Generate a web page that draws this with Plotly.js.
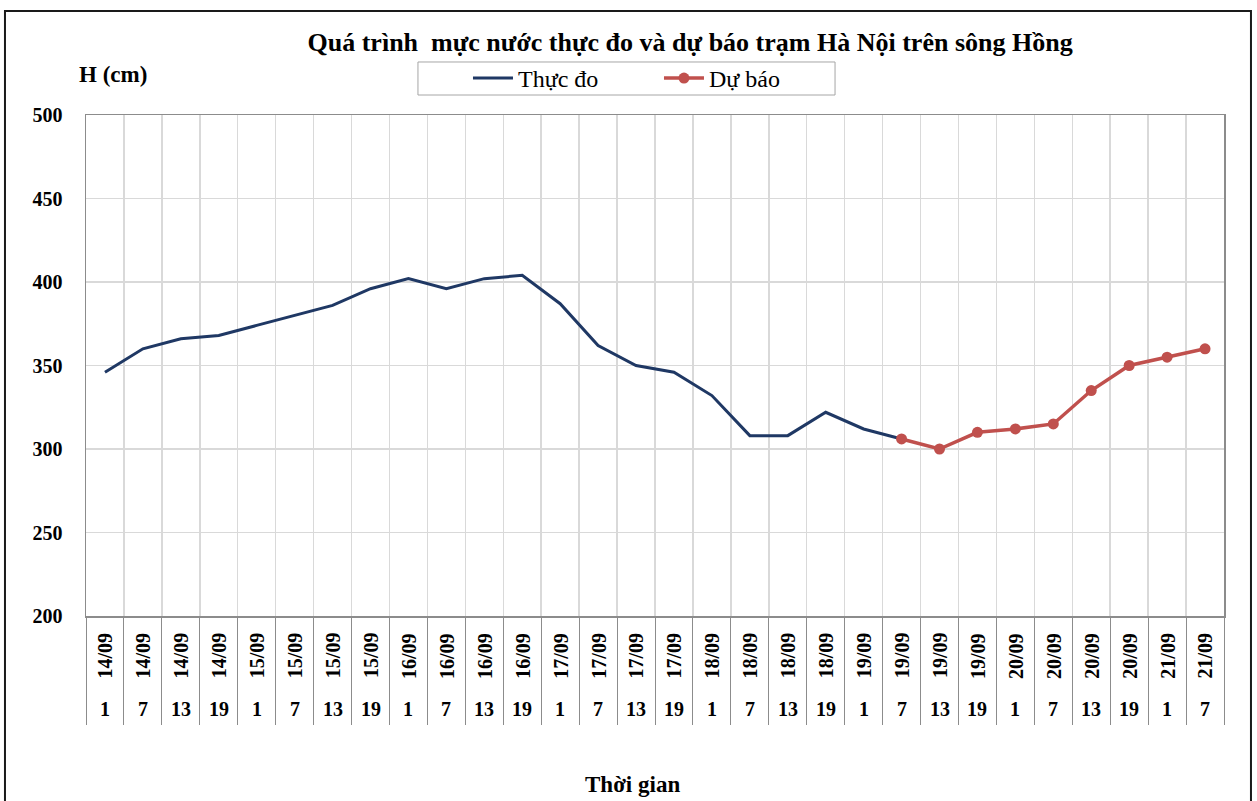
<!DOCTYPE html>
<html>
<head>
<meta charset="utf-8">
<script src="https://cdn.plot.ly/plotly-3.0.1.min.js"></script>
<style>html,body{margin:0;padding:0;background:#fff;}#chart{width:1257px;height:801px;}</style>
</head>
<body>
<div id="chart"></div>
<script>
var dates = ["14/09","14/09","14/09","14/09","15/09","15/09","15/09","15/09","16/09","16/09","16/09","16/09","17/09","17/09","17/09","17/09","18/09","18/09","18/09","18/09","19/09","19/09","19/09","19/09","20/09","20/09","20/09","20/09","21/09","21/09"];
var hours = ["1","7","13","19","1","7","13","19","1","7","13","19","1","7","13","19","1","7","13","19","1","7","13","19","1","7","13","19","1","7"];
var observed = [346,360,366,368,374,380,386,396,402,396,402,404,387,362,350,346,332,308,308,322,312,306];
var forecast = [306,300,310,312,315,335,350,355,360];
var forecastStart = 21;

var cats = dates.map(function(d,i){return d+" "+hours[i];});
var obsX = cats.slice(0, observed.length);
var fcX = cats.slice(forecastStart, forecastStart + forecast.length);

var serif = "'Liberation Serif', 'Times New Roman', serif";

var traces = [
  {x: obsX, y: observed, type: 'scatter', mode: 'lines', name: 'Thực đo',
   line: {color: '#1F3864', width: 3}},
  {x: fcX, y: forecast, type: 'scatter', mode: 'lines+markers', name: 'Dự báo',
   line: {color: '#C0504D', width: 3.5}, marker: {color: '#C0504D', size: 11}}
];

var annotations = [];
cats.forEach(function(c,i){
  annotations.push({x: c, xref: 'x', y: -0.079, yref: 'paper', text: '<b>'+dates[i]+'</b>',
    textangle: -90, showarrow: false, xanchor: 'center', yanchor: 'middle',
    font: {family: serif, size: 20, color: '#000'}});
  annotations.push({x: c, xref: 'x', y: -0.186, yref: 'paper', text: '<b>'+hours[i]+'</b>',
    showarrow: false, xanchor: 'center', yanchor: 'middle',
    font: {family: serif, size: 20, color: '#000'}});
});
annotations.push({x: 0.4798, xref: 'paper', y: -0.337, yref: 'paper', text: '<b>Thời gian</b>',
  showarrow: false, xanchor: 'center', yanchor: 'middle', font: {family: serif, size: 23, color: '#000'}});
annotations.push({x: 0.0237, xref: 'paper', y: 1.08, yref: 'paper', text: '<b>H (cm)</b>',
  showarrow: false, xanchor: 'center', yanchor: 'middle', font: {family: serif, size: 23, color: '#000'}});

var layout = {
  width: 1257, height: 801,
  margin: {l: 86, r: 33, t: 115, b: 185},
  paper_bgcolor: '#fff', plot_bgcolor: '#fff',
  font: {family: serif, color: '#000'},
  title: {text: '<b>Quá trình  mực nước thực đo và dự báo trạm Hà Nội trên sông Hồng</b>',
    x: 0.549, xref: 'container', xanchor: 'center', y: 0.948, yref: 'container', yanchor: 'middle',
    font: {family: serif, size: 26, color: '#000'}},
  showlegend: true,
  legend: {orientation: 'h', xref: 'container', yref: 'container', x: 0.3723, xanchor: 'left',
    y: 0.902, yanchor: 'middle', borderwidth: 0, bgcolor: 'rgba(0,0,0,0)',
    font: {family: serif, size: 24, color: '#000'}, entrywidth: 136, itemwidth: 40},
  xaxis: {type: 'category', categoryorder: 'array', categoryarray: cats,
    range: [-0.5, cats.length - 0.5], tickson: 'boundaries', showgrid: true, gridcolor: '#D9D9D9', gridwidth: 1.5,
    showticklabels: false, ticks: 'outside', ticklen: 107, tickcolor: '#8C8C8C', tickwidth: 1,
    showline: true, linecolor: '#8C8C8C', linewidth: 1.5, mirror: true, zeroline: false, fixedrange: true},
  yaxis: {range: [200, 500], dtick: 50, tick0: 200, showgrid: true, gridcolor: '#D9D9D9', gridwidth: 1.5,
    showline: true, linecolor: '#8C8C8C', linewidth: 1.5, mirror: true, zeroline: false, ticks: '',
    tickfont: {family: serif, size: 20, color: '#000'}, tickprefix: '<b>', ticksuffix: '</b>', ticklabelstandoff: 18},
  shapes: [
    {type: 'rect', xref: 'paper', yref: 'paper', x0: -0.0712, x1: 1.0237, y0: -0.40, y1: 1.2076,
     line: {color: '#1a1a1a', width: 2}, fillcolor: 'rgba(0,0,0,0)', layer: 'above'},
    {type: 'rect', xref: 'paper', yref: 'paper', x0: 0.2917, x1: 0.6582, y0: 1.0399, y1: 1.1058,
     line: {color: '#A6A6A6', width: 1}, fillcolor: 'rgba(0,0,0,0)', layer: 'below'}
  ],
  annotations: annotations
};

Plotly.newPlot('chart', traces, layout, {displayModeBar: false, staticPlot: true});
</script>
</body>
</html>
